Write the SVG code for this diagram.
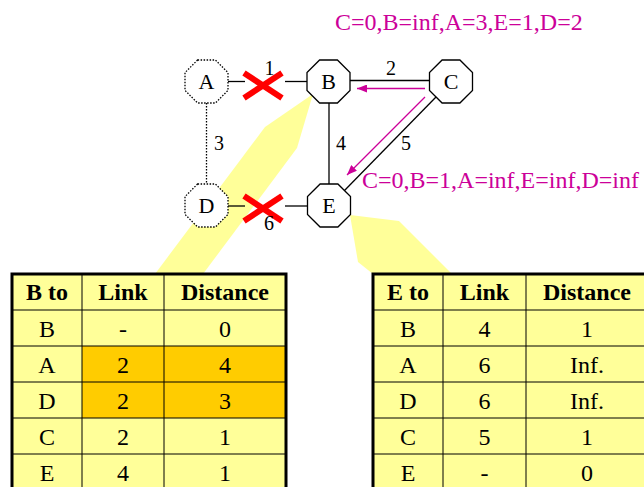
<svg xmlns="http://www.w3.org/2000/svg" xmlns:xlink="http://www.w3.org/1999/xlink" width="644" height="487" viewBox="0 0 644 487">
<style>
text{font-family:'Liberation Serif','Times New Roman',Times,'Nimbus Roman','Nimbus Roman No9 L',FreeSerif,'Noto Serif','DejaVu Serif',Georgia,serif}
.node{fill:#fff;stroke:#000;stroke-width:1.3}
.dotted{stroke-dasharray:1.5 1.5}
.lbl{font-size:22px;text-anchor:middle;fill:#000}
.elbl{font-size:20px;text-anchor:middle;fill:#000}
.edge{stroke:#000;stroke-width:1.3;fill:none}
.cross{stroke:#FF0000;stroke-width:6;stroke-linecap:butt}
.mag{stroke:#CC0099;stroke-width:1.3;fill:none}
.magtxt{font-size:24px;fill:#CC0099}
.callout{fill:#FFFF99;stroke:none}
.cell{fill:#FFFF99}
.hi{fill:#FFCC00}
.grid{stroke:#000;stroke-width:1;fill:none}
.border{stroke:#000;stroke-width:3;fill:none}
.th{font-size:24px;font-weight:bold;text-anchor:middle;fill:#000}
.td{font-size:24px;text-anchor:middle;fill:#000}
</style>
<defs>
<polygon id="oct" points="-8.9,-21.5 8.9,-21.5 21.5,-8.9 21.5,8.9 8.9,21.5 -8.9,21.5 -21.5,8.9 -21.5,-8.9"/>
<marker id="mh" viewBox="0 0 10 8" refX="10" refY="4" markerWidth="10" markerHeight="8" markerUnits="userSpaceOnUse" orient="auto">
<path d="M0,0 L10,4 L0,8 Z" fill="#CC0099"/>
</marker>
</defs>
<rect width="644" height="487" fill="#fff"/>

<g id="callouts">
<polygon class="callout" points="313,94 265,127 155,274 203,274 297,148"/>
<polygon class="callout" points="350,215 399,221 452,274 373,274 358,262"/>
</g>

<g id="connectors">
<line class="edge" x1="228" y1="81.5" x2="245" y2="81.5"/>
<line class="edge" x1="285" y1="81.5" x2="307" y2="81.5"/>
<line class="edge" x1="350" y1="80.5" x2="429.5" y2="80.5" style="stroke-width:1.6"/>
<line class="edge" x1="329" y1="103" x2="329" y2="184"/>
<line class="edge" x1="436" y1="97" x2="344" y2="191"/>
<line class="edge dotted" x1="206.5" y1="103" x2="206.5" y2="184"/>
<line class="edge" x1="228" y1="206" x2="245" y2="206"/>
<line class="edge" x1="285" y1="206" x2="307" y2="206"/>
<line class="cross" x1="244" y1="73" x2="282" y2="98"/>
<line class="cross" x1="282" y1="73" x2="244" y2="98"/>
<line class="cross" x1="244" y1="196" x2="282" y2="221"/>
<line class="cross" x1="282" y1="196" x2="244" y2="221"/>
<line class="mag" x1="425" y1="88.5" x2="357" y2="88.5" marker-end="url(#mh)"/>
<line class="mag" x1="425" y1="97" x2="347" y2="175" marker-end="url(#mh)"/>
<text class="elbl" x="269.5" y="75">1</text>
<text class="elbl" x="391" y="75">2</text>
<text class="elbl" x="219" y="150">3</text>
<text class="elbl" x="341" y="150">4</text>
<text class="elbl" x="406" y="150">5</text>
<text class="elbl" x="269" y="230">6</text>
</g>

<g id="node-A"><use xlink:href="#oct" href="#oct" x="206.5" y="81.5" class="node dotted"/><text class="lbl" x="206.5" y="89">A</text></g>
<g id="node-B"><use xlink:href="#oct" href="#oct" x="328.5" y="81.5" class="node"/><text class="lbl" x="328.5" y="89">B</text></g>
<g id="node-C"><use xlink:href="#oct" href="#oct" x="451" y="81.5" class="node"/><text class="lbl" x="451" y="89">C</text></g>
<g id="node-D"><use xlink:href="#oct" href="#oct" x="206.5" y="205.5" class="node dotted"/><text class="lbl" x="206.5" y="213">D</text></g>
<g id="node-E"><use xlink:href="#oct" href="#oct" x="329" y="205.5" class="node"/><text class="lbl" x="329" y="213">E</text></g>

<g id="labels">
<text class="magtxt" x="335" y="30">C=0,B=inf,A=3,E=1,D=2</text>
<text class="magtxt" x="362" y="188">C=0,B=1,A=inf,E=inf,D=inf</text>
</g>

<g id="table-B">
<rect class="cell" x="12" y="274" width="274" height="216"/>
<rect class="hi" x="82" y="346" width="204" height="72"/>
<path class="grid" d="M82,274V490M164,274V490M12,310H286M12,346H286M12,382H286M12,418H286M12,454H286"/>
<rect class="border" x="12" y="274" width="274" height="216"/>
<text class="th" x="47" y="300">B to</text>
<text class="th" x="123" y="300">Link</text>
<text class="th" x="225" y="300">Distance</text>
<text class="td" x="47" y="336.5">B</text><text class="td" x="123" y="336.5">-</text><text class="td" x="225" y="336.5">0</text>
<text class="td" x="47" y="372.5">A</text><text class="td" x="123" y="372.5">2</text><text class="td" x="225" y="372.5">4</text>
<text class="td" x="47" y="408.5">D</text><text class="td" x="123" y="408.5">2</text><text class="td" x="225" y="408.5">3</text>
<text class="td" x="47" y="444.5">C</text><text class="td" x="123" y="444.5">2</text><text class="td" x="225" y="444.5">1</text>
<text class="td" x="47" y="480.5">E</text><text class="td" x="123" y="480.5">4</text><text class="td" x="225" y="480.5">1</text>
</g>

<g id="table-E">
<rect class="cell" x="373" y="274" width="275" height="216"/>
<path class="grid" d="M443,274V490M526,274V490M373,310H648M373,346H648M373,382H648M373,418H648M373,454H648"/>
<rect class="border" x="373" y="274" width="275" height="216"/>
<text class="th" x="408" y="300">E to</text>
<text class="th" x="484.5" y="300">Link</text>
<text class="th" x="587" y="300">Distance</text>
<text class="td" x="408" y="336.5">B</text><text class="td" x="484.5" y="336.5">4</text><text class="td" x="587" y="336.5">1</text>
<text class="td" x="408" y="372.5">A</text><text class="td" x="484.5" y="372.5">6</text><text class="td" x="587" y="372.5">Inf.</text>
<text class="td" x="408" y="408.5">D</text><text class="td" x="484.5" y="408.5">6</text><text class="td" x="587" y="408.5">Inf.</text>
<text class="td" x="408" y="444.5">C</text><text class="td" x="484.5" y="444.5">5</text><text class="td" x="587" y="444.5">1</text>
<text class="td" x="408" y="480.5">E</text><text class="td" x="484.5" y="480.5">-</text><text class="td" x="587" y="480.5">0</text>
</g>
</svg>
